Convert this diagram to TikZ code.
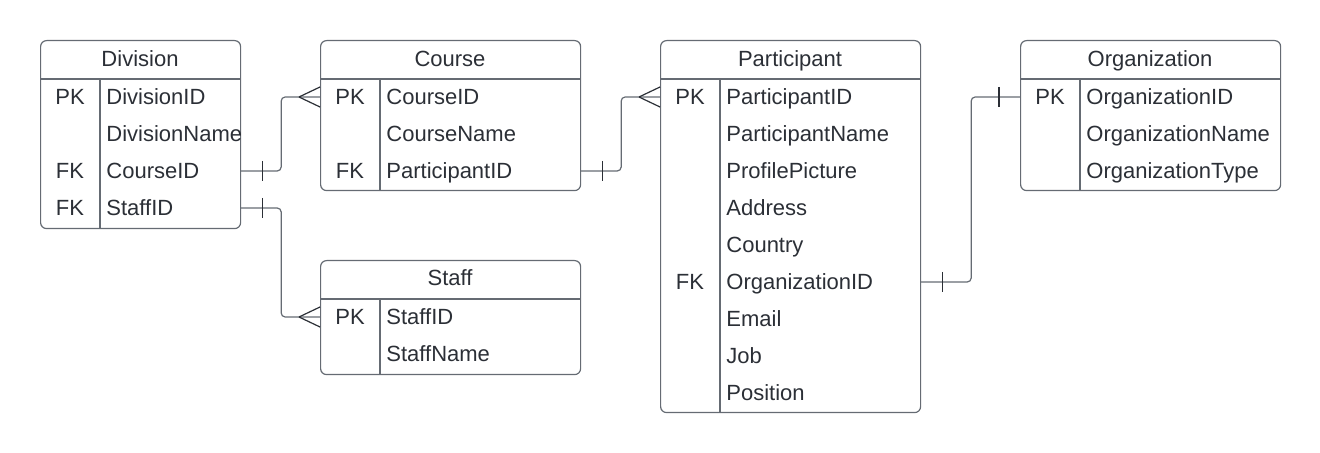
\documentclass[tikz,border=0pt]{standalone}
\usepackage{fontspec}
\setmainfont{Liberation Sans}
\usetikzlibrary{positioning}
\definecolor{ink}{HTML}{2B2F36}
\definecolor{edge}{HTML}{656B73}
\tikzset{
  table/.style={draw=edge,line width=0.6pt,rounded corners=3pt,inner sep=0pt,anchor=north west},
  title/.style={font=\fontsize{11}{13}\selectfont,text=ink,inner sep=0pt,text height=7.9pt,text depth=0pt},
  key/.style={title},
  field/.style={title,anchor=west},
  rule/.style={draw=edge,line width=0.6pt},
  rel/.style={draw=edge,line width=0.6pt,rounded corners=2pt},
  tick/.style={draw=ink,line width=0.6pt}
}

\begin{document}
\begin{tikzpicture}[x=0.5pt,y=-0.5pt]
  \useasboundingbox (0,0) rectangle (1320,453);
  % Division
  \node[table,minimum width=100pt,minimum height=94pt] (div) at (40,40) {};
  \draw[rule] (40,79) -- (240,79);
  \draw[rule] (100,79) -- (100,228);
  \node[title] (div-t) at (140,59) {Division};
  \node[key] (div-pk) at (70,97) {PK};
  \node[key] (div-fk1) at (70,171) {FK};
  \node[key] (div-fk2) at (70,208) {FK};
  \node[field] (div-id) at (106,97) {DivisionID};
  \node[field] (div-name) at (106,134) {DivisionName};
  \node[field] (div-crs) at (106,171) {CourseID};
  \node[field] (div-stf) at (106,208) {StaffID};
  % Course
  \node[table,minimum width=130pt,minimum height=75pt] (crs) at (320,40) {};
  \draw[rule] (320,79) -- (580,79);
  \draw[rule] (380,79) -- (380,190);
  \node[title] (crs-t) at (450,59) {Course};
  \node[key] (crs-pk) at (350,97) {PK};
  \node[key] (crs-fk) at (350,171) {FK};
  \node[field] (crs-id) at (386,97) {CourseID};
  \node[field] (crs-name) at (386,134) {CourseName};
  \node[field] (crs-par) at (386,171) {ParticipantID};
  % Staff
  \node[table,minimum width=130pt,minimum height=57pt] (stf) at (320,260) {};
  \draw[rule] (320,299) -- (580,299);
  \draw[rule] (380,299) -- (380,374);
  \node[title] (stf-t) at (450,278) {Staff};
  \node[key] (stf-pk) at (350,317) {PK};
  \node[field] (stf-id) at (386,317) {StaffID};
  \node[field] (stf-name) at (386,354) {StaffName};
  % Participant
  \node[table,minimum width=130pt,minimum height=186pt] (par) at (660,40) {};
  \draw[rule] (660,79) -- (920,79);
  \draw[rule] (720,79) -- (720,412);
  \node[title] (par-t) at (790,59) {Participant};
  \node[key] (par-pk) at (690,97) {PK};
  \node[key] (par-fk) at (690,282) {FK};
  \node[field] (par-id) at (726,97) {ParticipantID};
  \node[field] (par-name) at (726,134) {ParticipantName};
  \node[field] (par-pic) at (726,171) {ProfilePicture};
  \node[field] (par-addr) at (726,208) {Address};
  \node[field] (par-ctry) at (726,245) {Country};
  \node[field] (par-org) at (726,282) {OrganizationID};
  \node[field] (par-mail) at (726,319) {Email};
  \node[field] (par-job) at (726,356) {Job};
  \node[field] (par-pos) at (726,393) {Position};
  % Organization
  \node[table,minimum width=130pt,minimum height=75pt] (org) at (1020,40) {};
  \draw[rule] (1020,79) -- (1280,79);
  \draw[rule] (1080,79) -- (1080,190);
  \node[title] (org-t) at (1150,59) {Organization};
  \node[key] (org-pk) at (1050,97) {PK};
  \node[field] (org-id) at (1086,97) {OrganizationID};
  \node[field] (org-name) at (1086,134) {OrganizationName};
  \node[field] (org-type) at (1086,171) {OrganizationType};
  % relations
  \draw[rel] (div-crs -| div.east) coordinate (r1a) -- ++(40,0) |- (crs-id -| crs.west) coordinate (r1b);
  \draw[rel] (div-stf -| div.east) coordinate (r2a) -- ++(40,0) |- (stf-id -| stf.west) coordinate (r2b);
  \draw[rel] (crs-par -| crs.east) coordinate (r3a) -- ++(40,0) |- (par-id -| par.west) coordinate (r3b);
  \draw[rel] (par-org -| par.east) coordinate (r4a) -- ++(50,0) |- (org-id -| org.west) coordinate (r4b);
  % one ends
  \draw[tick] (r1a) ++(21,-10) -- ++(0,20);
  \draw[tick] (r2a) ++(21,-10) -- ++(0,20);
  \draw[tick] (r3a) ++(21,-10) -- ++(0,20);
  \draw[tick] (r4a) ++(21,-10) -- ++(0,20);
  \draw[tick] (r4b) ++(-21,-10) -- ++(0,20);
  % many ends
  \draw[tick] (r1b) ++(-21,0) -- ++(21,-10) (r1b) ++(-21,0) -- ++(21,10);
  \draw[tick] (r2b) ++(-21,0) -- ++(21,-10) (r2b) ++(-21,0) -- ++(21,10);
  \draw[tick] (r3b) ++(-21,0) -- ++(21,-10) (r3b) ++(-21,0) -- ++(21,10);
\end{tikzpicture}
\end{document}
